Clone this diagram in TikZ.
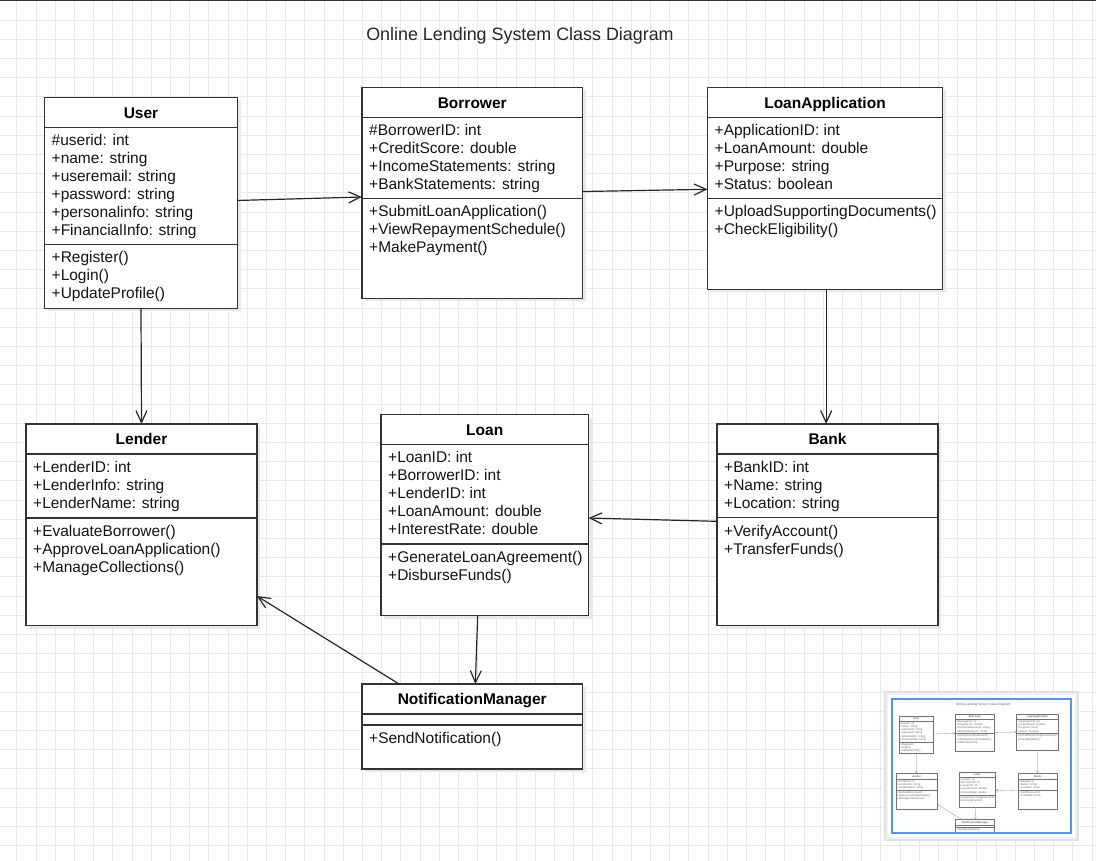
\documentclass[tikz,border=0pt]{standalone}
\usepackage{fontspec}
\setmainfont{Liberation Sans}
\usetikzlibrary{arrows.meta,calc}
\definecolor{strokec}{HTML}{333333}
\definecolor{frameblue}{RGB}{80,150,240}
\tikzset{
  classbox/.style={draw=strokec, fill=white, line width=1.2pt, inner sep=0pt, outer sep=0pt},
  classline/.style={draw=strokec, line width=1.2pt},
  classtitle/.style={font=\fontsize{15.5}{18}\selectfont\bfseries, anchor=base, inner sep=0pt, text=black},
  member/.style={font=\fontsize{15.5}{18}\selectfont, anchor=base west, inner sep=0pt, text=black!92},
  titletext/.style={font=\fontsize{17.9}{20}\selectfont, anchor=base, inner sep=0pt, text=black!85},
  boxshadow/.style={fill=black!9},
  conn/.style={draw=black!85, line width=1.2pt, -{Straight Barb[length=12pt,width=11pt]}},
  gridline/.style={draw=black!9, line width=0.8pt}
}
\newcommand\umlclass[9]{%
  \fill[boxshadow] (#2+3,#3+3) rectangle (#2+#4+3,#3+#5+3);
  \node[classbox, minimum width=#4pt, minimum height=#5pt, anchor=north west] (#1) at (#2,#3) {};
  \node[classtitle] (#1-title) at (#2+#4/2,#3+20.8) {#7};
  \draw[classline] (#2,#3+30) -- (#2+#4,#3+30);
  \draw[classline] (#2,#3+#6) -- (#2+#4,#3+#6);
  \foreach \mytxt [count=\myi] in {#8} {\node[member] (#1-a\myi) at (#2+7,#3+30+18*\myi) {\mytxt};}
  \foreach \mytxt [count=\myi] in {#9} {\node[member] (#1-m\myi) at (#2+7,#3+#6+18*\myi+0.5) {\mytxt};}
}
\newcommand\drawdiagram{%
  \node[titletext] (title) at (520,40.5) {Online Lending System Class Diagram};
  \umlclass{user}{44.5}{97.5}{193}{211}{147}{User}
    {\#userid: int,+name: string,+useremail: string,+password: string,+personalinfo: string,+FinancialInfo: string}
    {+Register(),+Login(),+UpdateProfile()}
  \umlclass{borrower}{362}{87.5}{220.5}{211}{111}{Borrower}
    {\#BorrowerID: int,+CreditScore: double,+IncomeStatements: string,+BankStatements: string}
    {+SubmitLoanApplication(),+ViewRepaymentSchedule(),+MakePayment()}
  \umlclass{loanapp}{707.5}{87.5}{235}{202}{111}{LoanApplication}
    {+ApplicationID: int,+LoanAmount: double,+Purpose: string,+Status: boolean}
    {+UploadSupportingDocuments(),+CheckEligibility()}
  \umlclass{lender}{26}{424}{231}{201.5}{94}{Lender}
    {+LenderID: int,+LenderInfo: string,+LenderName: string}
    {+EvaluateBorrower(),+ApproveLoanApplication(),+ManageCollections()}
  \umlclass{loan}{381}{414.5}{207.5}{201}{129.5}{Loan}
    {+LoanID: int,+BorrowerID: int,+LenderID: int,+LoanAmount: double,+InterestRate: double}
    {+GenerateLoanAgreement(),+DisburseFunds()}
  \umlclass{bank}{717}{424}{221}{201.5}{93.5}{Bank}
    {+BankID: int,+Name: string,+Location: string}
    {+VerifyAccount(),+TransferFunds()}
  \umlclass{notif}{362}{684}{220.5}{85}{41}{NotificationManager}
    {}
    {+SendNotification()}
  \draw[conn] ($(user.north east)!0.488!(user.south east)$) -- ($(borrower.north west)!0.519!(borrower.south west)$);
  \draw[conn] ($(borrower.north east)!0.493!(borrower.south east)$) -- ($(loanapp.north west)!0.504!(loanapp.south west)$);
  \draw[conn] (user.south) -- (lender.north);
  \draw[conn] ($(loanapp.south west)!0.505!(loanapp.south east)$) coordinate (la-s) -- (la-s |- bank.north);
  \draw[conn] ($(bank.north west)!0.483!(bank.south west)$) -- ($(loan.north east)!0.515!(loan.south east)$);
  \draw[conn] ($(loan.south west)!0.466!(loan.south east)$) -- ($(notif.north west)!0.514!(notif.north east)$);
  \draw[conn] ($(notif.north west)!0.168!(notif.north east)$) -- ($(lender.north east)!0.854!(lender.south east)$);
}
\begin{document}
\begin{tikzpicture}[x=1pt,y=-1pt]
  \useasboundingbox (0,0) rectangle (1096,861);
  \fill[white] (0,0) rectangle (1096,861);
  \foreach \k in {1,...,57} {\draw[gridline] (-2.5+19.2*\k,0) -- (-2.5+19.2*\k,861);}
  \foreach \k in {1,...,44} {\draw[gridline] (0,0.8+19.2*\k) -- (1096,0.8+19.2*\k);}
  \draw[line width=1.5pt, black!80] (0,0.75) -- (1096,0.75);
  \drawdiagram
  % overview panel
  \fill[black!12] (884,691) rectangle (1079,841);
  \fill[black!6] (886,693) rectangle (1077,839);
  \fill[white] (888,695) rectangle (1075,837);
  \draw[frameblue, line width=1.6pt, fill=white] (891.7,699) rectangle (1070.7,832.7);
  \begin{scope}
    \clip (892.5,699.8) rectangle (1069.9,831.9);
    \begin{scope}[shift={(891.3,698.5)}, scale=0.177, transform shape, name prefix=mini-,
        classbox/.style={draw=black!55, fill=white, line width=0.35pt, inner sep=0pt, outer sep=0pt},
        classline/.style={draw=black!55, line width=0.35pt},
        boxshadow/.style={opacity=0},
        member/.style={font=\fontsize{15.5}{18}\selectfont, anchor=base west, inner sep=0pt, text=black!60},
        classtitle/.style={font=\fontsize{15.5}{18}\selectfont\bfseries, anchor=base, inner sep=0pt, text=black!60},
        titletext/.style={font=\fontsize{17.9}{20}\selectfont, anchor=base, inner sep=0pt, text=black!60},
        conn/.style={draw=black!45, line width=0.3pt, -{Straight Barb[length=2.2pt,width=2pt]}}]
      \drawdiagram
    \end{scope}
  \end{scope}
\end{tikzpicture}
\end{document}
